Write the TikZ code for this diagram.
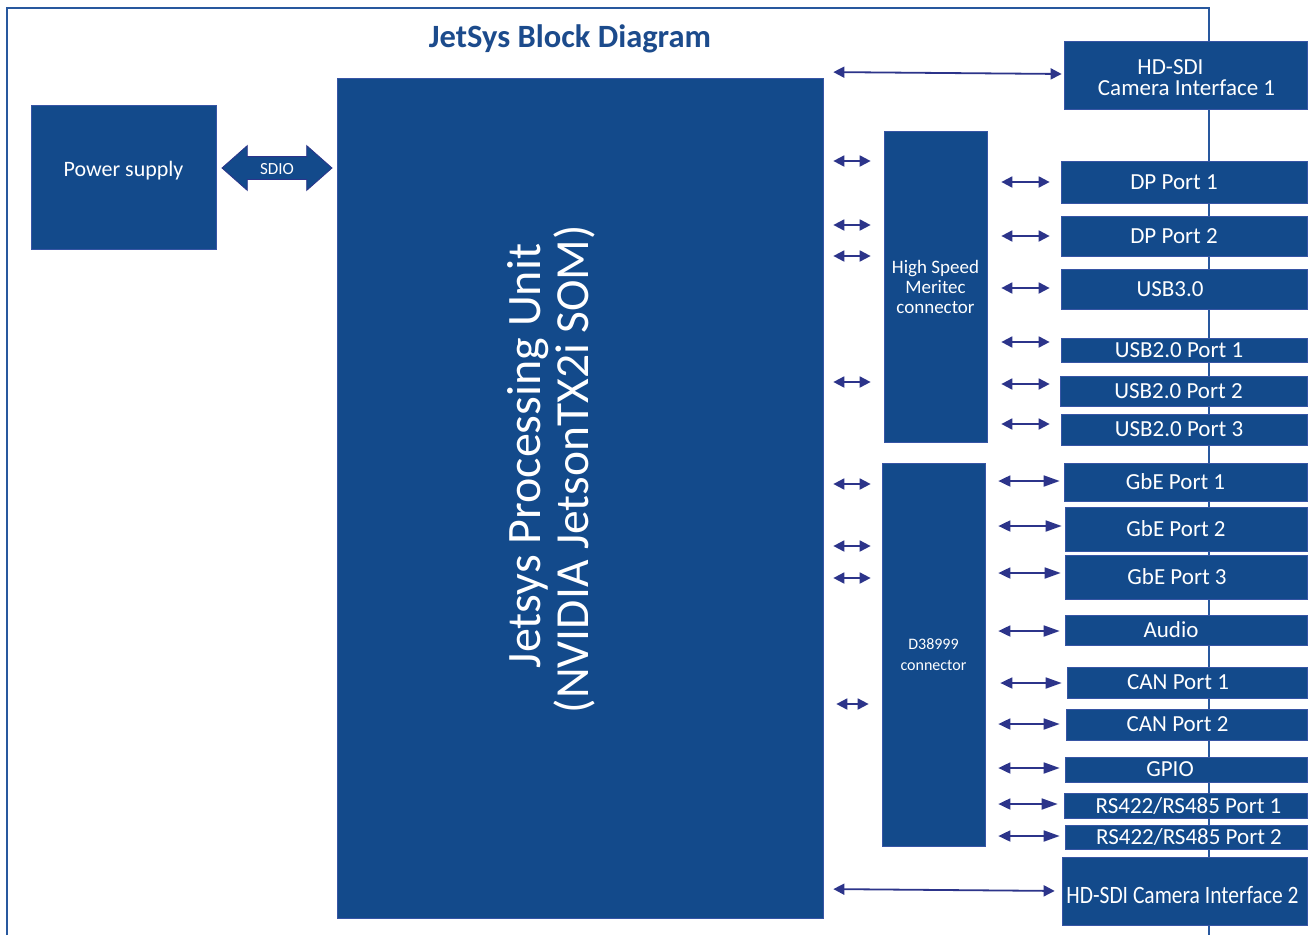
\documentclass[tikz,border=0pt]{standalone}
\usepackage{fontspec}
\setmainfont{Carlito}
\usetikzlibrary{arrows.meta,shapes.arrows}
\definecolor{boxblue}{RGB}{19,74,139}
\definecolor{boxedge}{RGB}{55,85,165}
\definecolor{framecol}{RGB}{40,88,158}
\definecolor{arrowcol}{RGB}{44,52,138}
\definecolor{titlecol}{RGB}{28,75,140}
\begin{document}
\begin{tikzpicture}[x=1pt,y=-1pt,
  box/.style={rectangle, fill=boxblue, draw=boxedge, line width=0.7pt, text=white, inner sep=0pt},
  port/.style={box, font=\fontsize{23}{21}\selectfont},
  biarrow/.style={arrowcol, line width=1.8pt, {Triangle[length=11pt,width=11pt]}-{Triangle[length=11pt,width=11pt]}},
  biarrowL/.style={arrowcol, line width=1.8pt, {Triangle[length=12pt,width=11pt]}-{Triangle[length=16pt,width=11pt]}},
]
\useasboundingbox (0,0) rectangle (1310,935);
\fill[white] (0,0) rectangle (1310,935);
% frame
\draw[framecol, line width=2.6pt] (7,935) -- (7,8) -- (1209,8) -- (1209,935);
% title
\node[font=\bfseries\fontsize{32.5}{33}\selectfont, text=titlecol, anchor=base, inner sep=0] (title) at (570,47) {JetSys Block Diagram};
% left blocks
\node[box, minimum width=185, minimum height=144, font=\fontsize{22}{24}\selectfont, text height=14, text depth=15] (ps) at (123.5,177) {Power supply};
\node[box, minimum width=486, minimum height=840] (main) at (580,498) {};
\node[text=white, rotate=90, anchor=base, inner sep=0, font=\fontsize{48}{48}\selectfont] (mainA) at (540,456) {Jetsys Processing Unit};
\node[text=white, rotate=90, anchor=base, inner sep=0, font=\fontsize{47.5}{48}\selectfont] (mainB) at (588,469) {(NVIDIA JetsonTX2i SOM)};
% SDIO block arrow
\node[double arrow, fill=boxblue, draw=arrowcol, line width=0.8pt, text=white,
      font=\fontsize{17}{17}\selectfont, minimum height=110, minimum width=44,
      double arrow head extend=11, double arrow tip angle=83,
      inner xsep=0, inner ysep=5, text height=12, text depth=0] (sdio) at (277,168) {SDIO};
% connector boxes
\node[box, minimum width=103, minimum height=311, align=center, font=\fontsize{19}{20}\selectfont] (hs) at (935.5,286.5) {High Speed\\Meritec\\connector};
\node[box, minimum width=103, minimum height=383, align=center, font=\fontsize{16}{21}\selectfont] (d38) at (933.5,654.5) {D38999\\connector};
% port boxes
\node[port, minimum width=243, minimum height=68, align=center, text height=40, text depth=0] (hd1) at (1185.5,75) {\hspace*{-30pt}HD-SDI\\\hspace*{2pt}Camera Interface 1};
\node[port, minimum width=246, minimum height=42] (dp1) at (1184,182) {\hspace*{-20pt}DP Port 1};
\node[port, minimum width=246, minimum height=40] (dp2) at (1184,236) {\hspace*{-20pt}DP Port 2};
\node[port, minimum width=246, minimum height=40] (usb3) at (1184,289) {\hspace*{-28pt}USB3.0};
\node[port, minimum width=246, minimum height=24] (u1) at (1184,350) {\hspace*{-10pt}USB2.0 Port 1};
\node[port, minimum width=247, minimum height=30] (u2) at (1183.5,391) {\hspace*{-10pt}USB2.0 Port 2};
\node[port, minimum width=246, minimum height=31] (u3) at (1184,429.5) {\hspace*{-10pt}USB2.0 Port 3};
\node[port, minimum width=243, minimum height=38] (g1) at (1185.5,482) {\hspace*{-20pt}GbE Port 1};
\node[port, minimum width=242, minimum height=44] (g2) at (1186,529) {\hspace*{-20pt}GbE Port 2};
\node[port, minimum width=242, minimum height=44] (g3) at (1186,577) {\hspace*{-18pt}GbE Port 3};
\node[port, minimum width=242, minimum height=30] (audio) at (1186,630) {\hspace*{-30pt}Audio};
\node[port, minimum width=240, minimum height=31] (can1) at (1187,682.5) {\hspace*{-18pt}CAN Port 1};
\node[port, minimum width=241, minimum height=31] (can2) at (1186.5,724.5) {\hspace*{-18pt}CAN Port 2};
\node[port, minimum width=242, minimum height=25] (gpio) at (1186,769.5) {\hspace*{-32pt}GPIO};
\node[port, minimum width=243, minimum height=25] (rs1) at (1185.5,805.5) {\hspace*{6pt}RS422/RS485 Port 1};
\node[port, minimum width=242, minimum height=24] (rs2) at (1186,837) {\hspace*{6pt}RS422/RS485 Port 2};
\node[port, minimum width=245, minimum height=68, text height=24, text depth=0] (hd2) at (1184.5,891) {\hspace*{-4pt}\scalebox{0.86}[1]{\fontsize{25}{25}\selectfont HD-SDI Camera Interface 2}};
% main <-> high speed connector
\draw[biarrow, shorten <=10pt, shorten >=13pt] (main.east |- 0,161) -- (hs.west |- 0,161);
\draw[biarrow, shorten <=10pt, shorten >=13pt] (main.east |- 0,225) -- (hs.west |- 0,225);
\draw[biarrow, shorten <=10pt, shorten >=13pt] (main.east |- 0,256) -- (hs.west |- 0,256);
\draw[biarrow, shorten <=10pt, shorten >=13pt] (main.east |- 0,382) -- (hs.west |- 0,382);
% main <-> D38999
\draw[biarrow, shorten <=10pt, shorten >=11pt] (main.east |- 0,484) -- (d38.west |- 0,484);
\draw[biarrow, shorten <=10pt, shorten >=11pt] (main.east |- 0,546) -- (d38.west |- 0,546);
\draw[biarrow, shorten <=10pt, shorten >=11pt] (main.east |- 0,578) -- (d38.west |- 0,578);
\draw[biarrow, shorten <=13pt, shorten >=13pt] (main.east |- 0,704) -- (d38.west |- 0,704);
% long arrows to HD-SDI
\draw[biarrow, shorten <=10pt, shorten >=2pt] (main.east |- 0,72) -- (hd1.west |- 0,74);
\draw[biarrow, shorten <=10pt, shorten >=7pt] (main.east |- 0,889) -- (hd2.west |- 0,891);
% high speed <-> ports
\draw[biarrow, shorten <=14pt, shorten >=11pt] (hs.east |- 0,182) -- (dp1.west |- 0,182);
\draw[biarrow, shorten <=14pt, shorten >=11pt] (hs.east |- 0,236) -- (dp2.west |- 0,236);
\draw[biarrow, shorten <=14pt, shorten >=11pt] (hs.east |- 0,288) -- (usb3.west |- 0,288);
\draw[biarrow, shorten <=14pt, shorten >=11pt] (hs.east |- 0,342) -- (u1.west |- 0,342);
\draw[biarrow, shorten <=14pt, shorten >=10pt] (hs.east |- 0,384) -- (u2.west |- 0,384);
\draw[biarrow, shorten <=14pt, shorten >=11pt] (hs.east |- 0,424) -- (u3.west |- 0,424);
% D38999 <-> ports
\draw[biarrowL, shorten <=13pt, shorten >=4pt] (d38.east |- 0,481) -- (g1.west |- 0,481);
\draw[biarrowL, shorten <=13pt, shorten >=3pt] (d38.east |- 0,526) -- (g2.west |- 0,526);
\draw[biarrowL, shorten <=13pt, shorten >=4pt] (d38.east |- 0,573) -- (g3.west |- 0,573);
\draw[biarrowL, shorten <=13pt, shorten >=5pt] (d38.east |- 0,631) -- (audio.west |- 0,631);
\draw[biarrowL, shorten <=15pt, shorten >=5pt] (d38.east |- 0,683) -- (can1.west |- 0,683);
\draw[biarrowL, shorten <=13pt, shorten >=6pt] (d38.east |- 0,724) -- (can2.west |- 0,724);
\draw[biarrowL, shorten <=13pt, shorten >=5pt] (d38.east |- 0,768) -- (gpio.west |- 0,768);
\draw[biarrowL, shorten <=13pt, shorten >=6pt] (d38.east |- 0,804) -- (rs1.west |- 0,804);
\draw[biarrowL, shorten <=13pt, shorten >=5pt] (d38.east |- 0,836) -- (rs2.west |- 0,836);
\end{tikzpicture}
\end{document}
